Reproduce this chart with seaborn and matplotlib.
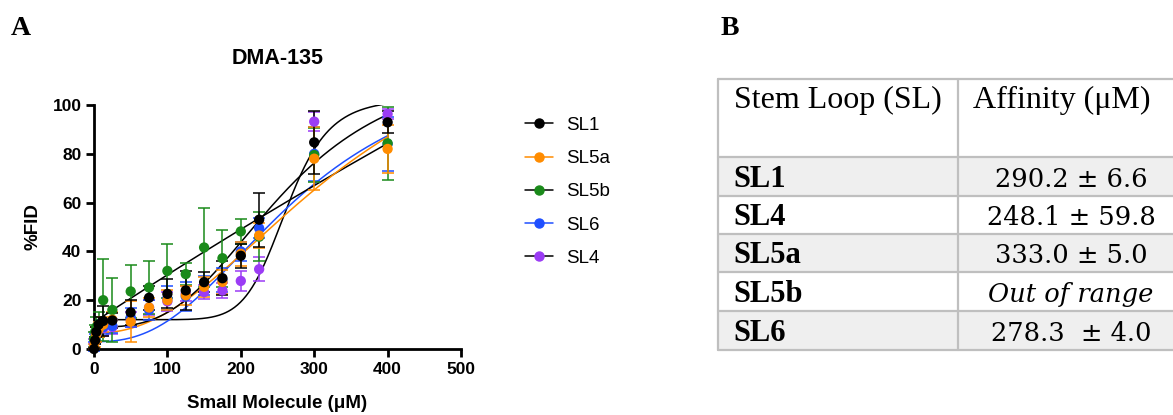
import matplotlib
matplotlib.use("Agg")
import matplotlib.pyplot as plt
from matplotlib.lines import Line2D
from matplotlib.patches import Rectangle
import numpy as np
import pandas as pd
import seaborn as sns

# concentrations (uM) and %FID readings per stem loop
conc = [0, 1.56, 3.13, 6.25, 12.5, 25, 50, 75, 100, 125, 150, 175, 200, 225, 300, 400]

sl1 = [0, 3.5, 7, 10, 11.5, 11.7, 15, 21, 22.6, 24, 27.4, 29, 38.2, 53, 84.7, 92.9]
sl1_err = [0.5, 1.5, 2, 3, 6, 3, 5, 5, 6, 8, 4, 7, 5, 11, 13, 4.5]
sl5a = [1, 3, 6, 8, 10, 12, 11.2, 17, 20, 22, 25.5, 27.5, 39, 46.5, 78, 82]
sl5a_err = [1, 2, 3, 3, 3, 3, 8.5, 4, 4, 4, 4, 5, 5, 5, 13, 10]
sl5b = [4, 7, 9, 10, 20, 16, 23.6, 25.2, 32, 30.7, 41.6, 37.2, 48.2, 46, 79.5, 84.3]
sl5b_err = [3, 3, 4, 5, 16.7, 13, 11, 11, 11, 4.5, 16, 11.6, 5, 10, 11, 15]
sl6 = [1, 4, 6, 8, 9, 9.5, 13, 16, 20.8, 21.5, 26, 28.2, 40, 49.5, 80, 84]
sl6_err = [2, 2, 3, 3, 3, 3, 4, 4, 5, 6, 4, 5, 4, 4, 11, 11]
sl4 = [2, 5, 7, 8, 8.5, 9, 12, 17, 19.5, 22.8, 23.3, 24, 27.9, 32.7, 93.2, 96.3]
sl4_err = [2, 2, 2, 3, 3, 3, 3, 3, 4, 3, 3, 3, 4, 5, 4, 2]

names = ["SL1", "SL5a", "SL5b", "SL6", "SL4"]
point_colors = ["#000000", "#ff8c00", "#1a8a1a", "#1f4fff", "#9b3cf5"]
line_colors = ["#000000", "#ff8c00", "#000000", "#1f4fff", "#000000"]

# Hill fit parameters: bottom, top, K, n
fit_bottom = [9, 6.5, 11, 3, 12]
fit_top = [120, 145, 1000, 122, 102.5]
fit_k = [260, 345, 5000, 280, 262]
fit_n = [3, 2.2, 1, 2.5, 9]

# affinity table
table_header = ["Stem Loop (SL)", "Affinity (\u03bcM)"]
table_names = ["SL1", "SL4", "SL5a", "SL5b", "SL6"]
table_values = ["290.2 \u00b1 6.6", "248.1 \u00b1 59.8", "333.0 \u00b1 5.0",
                "Out of range", "278.3  \u00b1 4.0"]

series = dict(zip(names, [(sl1, sl1_err), (sl5a, sl5a_err), (sl5b, sl5b_err),
                          (sl6, sl6_err), (sl4, sl4_err)]))

sns.set_style("ticks")
plt.rcParams["font.family"] = ["Liberation Sans", "DejaVu Sans"]
plt.rcParams.update({"text.color": "black", "axes.labelcolor": "black",
                     "xtick.color": "black", "ytick.color": "black",
                     "axes.edgecolor": "black"})

fig = plt.figure(figsize=(11.73, 4.15), dpi=100)
ax = fig.add_axes([94 / 1173, 66 / 415, 367 / 1173, 244 / 415])

xfit = np.linspace(0, 400, 400)
fit_rows = []
for i, name in enumerate(names):
    b, t, k, n = fit_bottom[i], fit_top[i], fit_k[i], fit_n[i]
    yfit = b + (t - b) * xfit ** n / (k ** n + xfit ** n)
    fit_rows.append(pd.DataFrame({"x": xfit, "y": yfit, "name": name}))
fits = pd.concat(fit_rows)

draw_order = ["SL4", "SL6", "SL5b", "SL5a", "SL1"]
for name in draw_order:
    i = names.index(name)
    sns.lineplot(data=fits[fits["name"] == name], x="x", y="y",
                 color=line_colors[i], lw=1.1, ax=ax, legend=False)

for name in draw_order:
    i = names.index(name)
    vals, errs = series[name]
    ax.errorbar(conc, vals, yerr=errs, fmt="none", ecolor=point_colors[i],
                elinewidth=1.1, capsize=4, capthick=1.1, clip_on=False, zorder=3)
    sns.scatterplot(x=conc, y=vals, color=point_colors[i], s=55,
                    edgecolor="none", ax=ax, zorder=4, clip_on=False)

ax.set_xlim(0, 500)
ax.set_ylim(0, 100)
ax.set_xticks(range(0, 501, 100))
ax.set_yticks(range(0, 101, 20))
for s in ["top", "right"]:
    ax.spines[s].set_visible(False)
for s in ["left", "bottom"]:
    ax.spines[s].set_linewidth(2)
    ax.spines[s].set_color("black")
ax.tick_params(width=2, length=6, labelsize=12.5, pad=3, colors="black")
for lab in ax.get_xticklabels() + ax.get_yticklabels():
    lab.set_fontweight("bold")
ax.set_xlabel("Small Molecule (\u03bcM)", fontsize=13.5, fontweight="bold", labelpad=13.5)
ax.set_ylabel("%FID", fontsize=13.5, fontweight="bold", labelpad=8)
ax.set_title("DMA-135", fontsize=15.5, fontweight="bold", pad=29.5)

handles = [Line2D([0], [0], color=line_colors[i], lw=1.1, marker="o",
                  markersize=6.5, markerfacecolor=point_colors[i],
                  markeredgecolor=point_colors[i]) for i in range(len(names))]
fig.legend(handles, names, loc="upper left", bbox_to_anchor=(508 / 1173, 1 - 100 / 415),
           frameon=False, fontsize=13.5, handlelength=1.5, handletextpad=0.7,
           labelspacing=0.86)

fig.text(11 / 1173, 1 - 35 / 415, "A", fontsize=20, fontweight="bold",
         family="Liberation Serif")
fig.text(721 / 1173, 1 - 35 / 415, "B", fontsize=20, fontweight="bold",
         family="Liberation Serif")

# table drawn in pixel space
tax = fig.add_axes([0, 0, 1, 1])
tax.set_xlim(0, 1173)
tax.set_ylim(415, 0)
tax.axis("off")
row_edges = [79, 157, 196, 234, 272, 311, 350]
col_left, col_mid, col_right = 718, 958, 1180
border = "#bfbfbf"
for r in range(len(table_names)):
    top, bot = row_edges[r + 1], row_edges[r + 2]
    face = "#efefef" if r % 2 == 0 else "white"
    tax.add_patch(Rectangle((col_left, top), col_right - col_left, bot - top,
                            facecolor=face, edgecolor="none"))
for y in row_edges:
    tax.plot([col_left, col_right], [y, y], color=border, lw=1.6)
for x in [col_left, col_mid]:
    tax.plot([x, x], [row_edges[0], row_edges[-1]], color=border, lw=1.6)

tax.text(734, 108, table_header[0], fontsize=23, family="Liberation Serif", va="baseline")
tax.text(973, 108, table_header[1], fontsize=23, family="Liberation Serif", va="baseline")
for r, (nm, val) in enumerate(zip(table_names, table_values)):
    base = row_edges[r + 2] - 9
    tax.text(733, base, nm, fontsize=22, fontweight="bold",
             family="Liberation Serif", va="baseline")
    tax.text(1071, base, val, fontsize=18.5, family="DejaVu Serif", ha="center",
             va="baseline", style="italic" if val == "Out of range" else "normal")

fig.savefig("out.png", dpi=100)
